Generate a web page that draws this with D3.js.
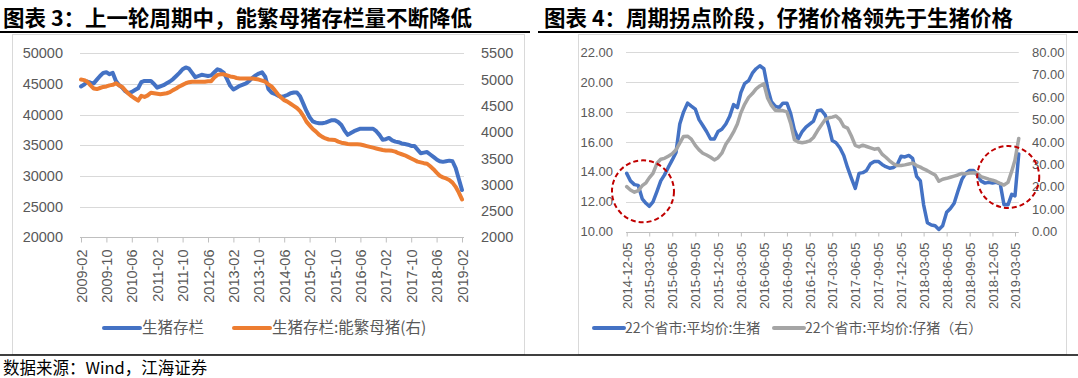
<!DOCTYPE html>
<html lang="zh">
<head>
<meta charset="UTF-8">
<title>图表3 / 图表4 生猪</title>
<script src="https://cdn.jsdelivr.net/npm/d3@7"></script>
<style>
  body { margin: 0; background: #fff; }
  svg text { font-family: "Liberation Sans", Arial, sans-serif; fill: #595959; }
  .title { font-family: "Noto Sans CJK SC", sans-serif; font-weight: 700; font-size: 21.5px; fill: #000 !important; }
  .legend { font-family: "Noto Sans CJK SC", sans-serif; }
  .footer { font-family: "Noto Sans CJK SC", "DejaVu Sans Mono", monospace; font-size: 16.5px; fill: #000 !important; }
</style>
</head>
<body>
<svg id="chart" width="1078" height="378"></svg>
<script>
// ---- 图表3: monthly, 2009-02 .. 2019-02
var hogStock = [ // 生猪存栏 (left)
  44600,44900,45400,45200,45100,45700,46300,46800,46900,46600,46800,45500,44800,44400,43800,43500,
  43700,44000,44300,45300,45500,45500,45500,45000,44400,44600,44800,45100,45400,45800,46300,46800,
  47400,47700,47500,46800,46100,46300,46500,46400,46300,46400,46900,47400,47200,46800,45800,44700,
  44100,44400,44700,44900,45100,45500,46000,46400,46700,46900,46200,44200,43600,43400,43100,42900,
  43000,43200,43500,43600,43600,43000,41800,40600,39600,38900,38700,38600,38600,38700,38900,39100,
  39100,38800,38300,37400,36700,37000,37300,37500,37700,37700,37700,37700,37700,37300,36700,35900,
  36000,36200,35800,35600,35500,35300,35200,35100,34900,34900,34300,33700,33800,33900,33500,33100,
  32700,32400,32300,32400,32500,32400,31300,29500,27700];
var sowStock = [ // 生猪存栏:能繁母猪 (right)
  5000,4990,4960,4890,4830,4820,4840,4860,4870,4890,4900,4930,4890,4860,4790,4730,
  4680,4640,4600,4690,4670,4700,4750,4740,4730,4720,4730,4740,4760,4800,4830,4870,
  4900,4930,4950,4960,4960,4960,4960,4960,4970,4970,5040,5090,5100,5100,5080,5060,
  5050,5030,5020,5020,5020,5020,5020,5010,5000,4980,4960,4910,4870,4800,4720,4660,
  4610,4580,4540,4500,4460,4400,4310,4200,4130,4060,4010,3950,3910,3880,3860,3855,
  3850,3820,3800,3790,3775,3770,3770,3770,3765,3750,3735,3720,3705,3690,3675,3660,
  3650,3650,3645,3630,3600,3580,3560,3530,3500,3470,3440,3425,3410,3400,3350,3295,
  3230,3170,3140,3120,3090,3040,2960,2850,2720];
var stockTicks = [20000,25000,30000,35000,40000,45000,50000];
var sowTicks = [2000,2500,3000,3500,4000,4500,5000,5500];

// ---- 图表4: on the 5th and 20th of each month, 2014-12-05 .. 2019-03-20
var hogPrice = [ // 22个省市:平均价:生猪 (left)
  13.9,13.4,13.15,13.1,12.2,11.9,11.7,12.0,12.7,13.4,13.8,14.3,14.8,15.3,17.2,18.0,
  18.6,18.4,18.2,17.5,17.1,16.7,16.2,16.2,16.7,16.85,17.2,17.7,18.5,18.3,19.3,19.9,
  20.1,20.6,20.9,21.1,20.9,19.6,18.7,18.4,18.3,18.6,18.6,17.9,16.8,16.2,16.7,17.0,
  17.2,17.4,18.1,18.14,17.8,17.0,16.1,15.95,15.6,15.1,14.3,13.6,12.9,13.9,13.95,14.1,
  14.55,14.7,14.7,14.5,14.35,14.25,14.3,14.5,15.05,15.0,15.1,14.9,13.7,13.4,11.8,10.6,
  10.45,10.4,10.15,10.4,11.3,11.55,11.9,12.7,13.5,13.9,14.1,14.1,13.8,13.4,13.25,13.3,
  13.25,13.3,13.2,11.8,11.8,12.5,12.4,15.2];
var pigletPrice = [ // 22个省市:平均价:仔猪 (right)
  20.1,18.6,17.6,18.3,20.5,21.8,24.0,26.0,30.5,32.3,32.7,33.7,34.8,36.5,39.5,42.5,
  42.6,41.3,38.5,36.5,35.0,34.2,33.2,32.0,33.0,35.0,39.0,41.4,44.5,48.0,53.0,56.8,
  59.9,61.6,63.7,65.0,66.0,59.5,56.3,54.2,54.0,54.0,53.4,48.3,41.0,40.0,39.7,40.0,
  40.5,42.0,45.0,47.5,50.0,50.8,51.1,51.6,50.0,47.0,46.2,42.8,38.5,37.8,38.6,38.0,
  37.4,36.8,37.1,34.6,33.2,31.6,30.2,29.5,29.5,29.8,30.2,30.6,29.5,28.8,28.0,27.2,
  26.2,25.3,22.5,23.4,23.8,24.3,24.8,25.3,26.0,25.8,26.2,26.3,26.1,24.6,24.0,23.4,
  23.0,22.4,21.5,20.8,22.0,27.0,32.0,41.6];
var priceTicks = [10,12,14,16,18,20,22];
var pigletTicks = [0,10,20,30,40,50,60,70,80];
var turnNotes = [{date: "2015-02-08", value: 12.7}, {date: "2019-02-06", value: 13.66}]; // dashed circles

var svg = d3.select("#chart");
var blue = "#4472C4", orange = "#ED7D31", grey = "#A5A5A5", grid = "#D9D9D9";

// frames, titles, rules
svg.append("rect").attr("x", 12.5).attr("y", 34.5).attr("width", 512).attr("height", 320)
  .attr("fill", "none").attr("stroke", grid);
svg.append("rect").attr("x", 578.5).attr("y", 34.5).attr("width", 488).attr("height", 320)
  .attr("fill", "none").attr("stroke", grid);
svg.append("text").attr("class", "title").attr("x", 3).attr("y", 26).text("图表 3：上一轮周期中，能繁母猪存栏量不断降低");
svg.append("text").attr("class", "title").attr("x", 544).attr("y", 26).text("图表 4：周期拐点阶段，仔猪价格领先于生猪价格");
svg.append("line").attr("x1", 0).attr("x2", 530).attr("y1", 32).attr("y2", 32).attr("stroke", "#000").attr("stroke-width", 2);
svg.append("line").attr("x1", 538).attr("x2", 1078).attr("y1", 32).attr("y2", 32).attr("stroke", "#000").attr("stroke-width", 2);
svg.append("line").attr("x1", 0).attr("x2", 1078).attr("y1", 355).attr("y2", 355).attr("stroke", "#000").attr("stroke-width", 1.5);
svg.append("text").attr("class", "footer").attr("x", 3).attr("y", 374).text("数据来源：Wind，江海证券");

// ================= 图表3 =================
var months = d3.timeMonth.range(new Date(2009, 1, 1), new Date(2019, 2, 1)).map(d3.timeFormat("%Y-%m"));
var x1 = d3.scalePoint().domain(months).range([81, 462]);
var y1 = d3.scaleLinear().domain([20000, 50000]).range([237.3, 53.3]);
var y1r = d3.scaleLinear().domain([2000, 5500]).range([237.3, 53.3]);

var g1 = svg.append("g");
g1.selectAll(".grid").data(stockTicks.slice(1)).enter().append("line")
  .attr("x1", 80).attr("x2", 464)
  .attr("y1", function(d){ return Math.round(y1(d)) + 0.5; })
  .attr("y2", function(d){ return Math.round(y1(d)) + 0.5; })
  .attr("stroke", grid);
g1.selectAll(".yl").data(stockTicks).enter().append("text")
  .attr("x", 63).attr("y", function(d){ return y1(d); }).attr("dy", "0.35em")
  .attr("text-anchor", "end").style("font-size", "14.5px").text(function(d){ return d; });
g1.selectAll(".yr").data(sowTicks).enter().append("text")
  .attr("x", 481).attr("y", function(d){ return y1r(d); }).attr("dy", "0.35em")
  .style("font-size", "14.5px").text(function(d){ return d; });

var ax1 = g1.append("g").attr("transform", "translate(0," + (Math.round(y1(20000)) + 0.5) + ")")
  .call(d3.axisBottom(x1).tickValues(months.filter(function(d, i){ return i % 8 === 0; }))
    .tickSize(5).tickSizeOuter(0));
ax1.select(".domain").attr("stroke", "#BFBFBF").attr("d", "M80,0H464");
ax1.selectAll(".tick line").attr("stroke", "#BFBFBF");
ax1.selectAll(".tick text").attr("fill", "#595959").style("font-size", "14.5px")
  .attr("transform", "rotate(-90)").attr("text-anchor", "end")
  .attr("x", -12).attr("y", 0).attr("dy", "0.35em");
ax1.attr("font-family", null).attr("font-size", null);

// secondary series sits on top, as in the original
g1.append("path").datum(hogStock).attr("fill", "none").attr("stroke", blue).attr("stroke-width", 4)
  .attr("stroke-linejoin", "round").attr("stroke-linecap", "round")
  .attr("d", d3.line().x(function(d, i){ return x1(months[i]); }).y(function(d){ return y1(d); }));
g1.append("path").datum(sowStock).attr("fill", "none").attr("stroke", orange).attr("stroke-width", 4)
  .attr("stroke-linejoin", "round").attr("stroke-linecap", "round")
  .attr("d", d3.line().x(function(d, i){ return x1(months[i]); }).y(function(d){ return y1r(d); }));

var leg1 = [{name: "生猪存栏", color: blue, x: 104}, {name: "生猪存栏:能繁母猪(右)", color: orange, x: 234}];
leg1.forEach(function(l){
  g1.append("line").attr("x1", l.x).attr("x2", l.x + 36).attr("y1", 328).attr("y2", 328)
    .attr("stroke", l.color).attr("stroke-width", 4).attr("stroke-linecap", "round");
  g1.append("text").attr("class", "legend").attr("x", l.x + 38).attr("y", 328).attr("dy", "0.35em")
    .style("font-size", "15.5px").text(l.name);
});

// ================= 图表4 =================
var dates = d3.range(hogPrice.length).map(function(k){
  return new Date(2014, 11 + Math.floor(k / 2), k % 2 ? 20 : 5);
});
var x2 = d3.scaleTime().domain([new Date(2014, 11, 5), new Date(2019, 2, 5)]).range([626.7, 1015]);
var y2 = d3.scaleLinear().domain([10, 22]).range([231.7, 52.3]);
var y2r = d3.scaleLinear().domain([0, 80]).range([231.7, 52.3]);
var xEnd = x2(dates[dates.length - 1]);

var g2 = svg.append("g");
g2.selectAll(".grid").data(priceTicks.slice(1)).enter().append("line")
  .attr("x1", 626).attr("x2", xEnd)
  .attr("y1", function(d){ return Math.round(y2(d)) + 0.5; })
  .attr("y2", function(d){ return Math.round(y2(d)) + 0.5; })
  .attr("stroke", grid);
g2.selectAll(".yl").data(priceTicks).enter().append("text")
  .attr("x", 613).attr("y", function(d){ return y2(d); }).attr("dy", "0.35em")
  .attr("text-anchor", "end").style("font-size", "13px").text(function(d){ return d.toFixed(2); });
g2.selectAll(".yr").data(pigletTicks).enter().append("text")
  .attr("x", 1032).attr("y", function(d){ return y2r(d); }).attr("dy", "0.35em")
  .style("font-size", "13px").text(function(d){ return d.toFixed(2); });

var qTicks = d3.range(18).map(function(i){ return new Date(2014, 11 + 3 * i, 5); });
var ax2 = g2.append("g").attr("transform", "translate(0," + (Math.round(y2(10)) + 0.5) + ")")
  .call(d3.axisBottom(x2).tickValues(qTicks).tickFormat(d3.timeFormat("%Y-%m-%d"))
    .tickSize(4).tickSizeOuter(0));
ax2.select(".domain").attr("stroke", "#BFBFBF").attr("d", "M626,0H" + xEnd);
ax2.selectAll(".tick line").attr("stroke", "#BFBFBF");
ax2.selectAll(".tick text").attr("fill", "#595959").style("font-size", "13px")
  .attr("transform", "rotate(-90)").attr("text-anchor", "end")
  .attr("x", -10).attr("y", 0).attr("dy", "0.35em");
ax2.attr("font-family", null).attr("font-size", null);

g2.append("path").datum(hogPrice).attr("fill", "none").attr("stroke", blue).attr("stroke-width", 3.5)
  .attr("stroke-linejoin", "round").attr("stroke-linecap", "round")
  .attr("d", d3.line().x(function(d, i){ return x2(dates[i]); }).y(function(d){ return y2(d); }));
g2.append("path").datum(pigletPrice).attr("fill", "none").attr("stroke", grey).attr("stroke-width", 3.5)
  .attr("stroke-linejoin", "round").attr("stroke-linecap", "round")
  .attr("d", d3.line().x(function(d, i){ return x2(dates[i]); }).y(function(d){ return y2r(d); }));

var parseDay = d3.timeParse("%Y-%m-%d");
g2.selectAll(".note").data(turnNotes).enter().append("circle")
  .attr("cx", function(d){ return x2(parseDay(d.date)); })
  .attr("cy", function(d){ return y2(d.value); })
  .attr("r", 31).attr("fill", "none").attr("stroke", "#C00000")
  .attr("stroke-width", 2).attr("stroke-dasharray", "5,3");

var leg2 = [{name: "22个省市:平均价:生猪", color: blue, x: 594}, {name: "22个省市:平均价:仔猪（右）", color: grey, x: 774}];
leg2.forEach(function(l){
  g2.append("line").attr("x1", l.x).attr("x2", l.x + 30).attr("y1", 328).attr("y2", 328)
    .attr("stroke", l.color).attr("stroke-width", 4).attr("stroke-linecap", "round");
  g2.append("text").attr("class", "legend").attr("x", l.x + 31).attr("y", 328).attr("dy", "0.35em")
    .style("font-size", "14px").text(l.name);
});
</script>
</body>
</html>
